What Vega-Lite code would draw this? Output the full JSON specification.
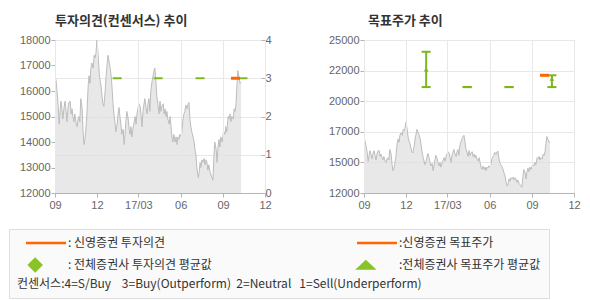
{
  "$schema": "https://vega.github.io/schema/vega-lite/v6.json",
  "padding": {"left": 8, "top": 14, "right": 8, "bottom": 1},
  "background": "white",
  "bounds": "flush",
  "spacing": 99,
  "config": {
    "font": "Liberation Sans",
    "view": {"stroke": "#b4b4b4"},
    "axis": {"labelFont": "Liberation Sans", "labelFontSize": 11, "labelColor": "#666666", "domainColor": "#b4b4b4", "tickColor": "#b4b4b4", "gridColor": "#e8e8e8", "title": null, "tickSize": 4, "labelPadding": 1, "labelOverlap": false},
    "title": {"anchor": "start", "font": "Noto Sans CJK KR", "fontSize": 13, "fontWeight": "bold", "color": "#333333", "offset": 6, "frame": "group"},
    "legend": {"symbolOpacity": 1}
  },
  "datasets": {
    "price": [
      {"d":"2016-09-01","p":16300},{"d":"2016-09-03","p":16450},{"d":"2016-09-05","p":16100},{"d":"2016-09-08","p":15400},{"d":"2016-09-10","p":14700},{"d":"2016-09-12","p":15200},{"d":"2016-09-14","p":15600},{"d":"2016-09-16","p":15300},{"d":"2016-09-18","p":14900},{"d":"2016-09-21","p":15400},{"d":"2016-09-23","p":15600},{"d":"2016-09-25","p":15200},{"d":"2016-09-27","p":14800},{"d":"2016-09-29","p":15300},
      {"d":"2016-10-01","p":15550},{"d":"2016-10-04","p":15600},{"d":"2016-10-06","p":15100},{"d":"2016-10-08","p":15300},{"d":"2016-10-10","p":15000},{"d":"2016-10-12","p":14800},{"d":"2016-10-14","p":15100},{"d":"2016-10-17","p":14700},{"d":"2016-10-19","p":14600},{"d":"2016-10-21","p":14900},{"d":"2016-10-23","p":15000},{"d":"2016-10-25","p":14800},{"d":"2016-10-27","p":15700},{"d":"2016-10-30","p":15300},
      {"d":"2016-11-01","p":14400},{"d":"2016-11-03","p":13900},{"d":"2016-11-05","p":14100},{"d":"2016-11-07","p":14500},{"d":"2016-11-09","p":15000},{"d":"2016-11-12","p":16200},{"d":"2016-11-14","p":16600},{"d":"2016-11-16","p":16300},{"d":"2016-11-18","p":16900},{"d":"2016-11-20","p":17100},{"d":"2016-11-23","p":16900},{"d":"2016-11-25","p":17400},{"d":"2016-11-27","p":17300},{"d":"2016-11-29","p":17500},
      {"d":"2016-12-01","p":18000},{"d":"2016-12-03","p":17600},{"d":"2016-12-06","p":16700},{"d":"2016-12-08","p":16400},{"d":"2016-12-10","p":16200},{"d":"2016-12-12","p":15800},{"d":"2016-12-14","p":15500},{"d":"2016-12-16","p":15400},{"d":"2016-12-19","p":16000},{"d":"2016-12-21","p":16600},{"d":"2016-12-23","p":17000},{"d":"2016-12-25","p":17400},{"d":"2016-12-27","p":17200},{"d":"2016-12-29","p":17000},
      {"d":"2017-01-01","p":16600},{"d":"2017-01-03","p":16100},{"d":"2017-01-05","p":15500},{"d":"2017-01-07","p":15100},{"d":"2017-01-09","p":14800},{"d":"2017-01-11","p":14400},{"d":"2017-01-14","p":14700},{"d":"2017-01-16","p":15100},{"d":"2017-01-18","p":15350},{"d":"2017-01-20","p":15000},{"d":"2017-01-22","p":14700},{"d":"2017-01-24","p":14300},{"d":"2017-01-27","p":14500},{"d":"2017-01-29","p":13900},{"d":"2017-01-31","p":14300},
      {"d":"2017-02-02","p":14800},{"d":"2017-02-04","p":15200},{"d":"2017-02-07","p":14900},{"d":"2017-02-09","p":14500},{"d":"2017-02-11","p":14300},{"d":"2017-02-13","p":14600},{"d":"2017-02-15","p":14200},{"d":"2017-02-17","p":14500},{"d":"2017-02-20","p":14800},{"d":"2017-02-22","p":15000},{"d":"2017-02-24","p":14700},{"d":"2017-02-26","p":15100},{"d":"2017-02-28","p":15300},
      {"d":"2017-03-02","p":15500},{"d":"2017-03-05","p":15400},{"d":"2017-03-07","p":15000},{"d":"2017-03-09","p":14600},{"d":"2017-03-11","p":15200},{"d":"2017-03-13","p":15450},{"d":"2017-03-15","p":15700},{"d":"2017-03-18","p":15300},{"d":"2017-03-20","p":15100},{"d":"2017-03-22","p":15500},{"d":"2017-03-24","p":15700},{"d":"2017-03-26","p":15200},{"d":"2017-03-28","p":16000},{"d":"2017-03-31","p":16400},
      {"d":"2017-04-02","p":16600},{"d":"2017-04-04","p":16800},{"d":"2017-04-06","p":16900},{"d":"2017-04-08","p":16400},{"d":"2017-04-10","p":15800},{"d":"2017-04-13","p":15400},{"d":"2017-04-15","p":15100},{"d":"2017-04-17","p":15600},{"d":"2017-04-19","p":15200},{"d":"2017-04-21","p":15400},{"d":"2017-04-24","p":15500},{"d":"2017-04-26","p":15100},{"d":"2017-04-28","p":15300},{"d":"2017-04-30","p":15000},
      {"d":"2017-05-02","p":15200},{"d":"2017-05-04","p":14900},{"d":"2017-05-07","p":14700},{"d":"2017-05-09","p":15000},{"d":"2017-05-11","p":14600},{"d":"2017-05-13","p":14200},{"d":"2017-05-15","p":14000},{"d":"2017-05-17","p":14300},{"d":"2017-05-20","p":14000},{"d":"2017-05-22","p":14200},{"d":"2017-05-24","p":13900},{"d":"2017-05-26","p":14200},{"d":"2017-05-28","p":14100},{"d":"2017-05-30","p":14300},
      {"d":"2017-06-02","p":14200},{"d":"2017-06-04","p":14500},{"d":"2017-06-06","p":14900},{"d":"2017-06-08","p":15100},{"d":"2017-06-10","p":15200},{"d":"2017-06-12","p":15450},{"d":"2017-06-15","p":15300},{"d":"2017-06-17","p":15500},{"d":"2017-06-19","p":15550},{"d":"2017-06-21","p":14900},{"d":"2017-06-23","p":14600},{"d":"2017-06-25","p":14400},{"d":"2017-06-28","p":14200},{"d":"2017-06-30","p":14000},
      {"d":"2017-07-02","p":13700},{"d":"2017-07-04","p":13500},{"d":"2017-07-06","p":13000},{"d":"2017-07-09","p":12600},{"d":"2017-07-11","p":12800},{"d":"2017-07-13","p":13200},{"d":"2017-07-15","p":13000},{"d":"2017-07-17","p":13300},{"d":"2017-07-19","p":13200},{"d":"2017-07-22","p":13350},{"d":"2017-07-24","p":13100},{"d":"2017-07-26","p":13300},{"d":"2017-07-28","p":13200},{"d":"2017-07-30","p":12900},
      {"d":"2017-08-01","p":13100},{"d":"2017-08-04","p":12800},{"d":"2017-08-06","p":12700},{"d":"2017-08-08","p":12600},{"d":"2017-08-10","p":12500},{"d":"2017-08-12","p":13400},{"d":"2017-08-14","p":14000},{"d":"2017-08-17","p":13700},{"d":"2017-08-19","p":13200},{"d":"2017-08-21","p":13800},{"d":"2017-08-23","p":14100},{"d":"2017-08-25","p":13800},{"d":"2017-08-27","p":14200},{"d":"2017-08-30","p":14000},
      {"d":"2017-09-01","p":14300},{"d":"2017-09-03","p":14400},{"d":"2017-09-05","p":14300},{"d":"2017-09-07","p":14600},{"d":"2017-09-09","p":14400},{"d":"2017-09-12","p":15000},{"d":"2017-09-14","p":14900},{"d":"2017-09-16","p":15100},{"d":"2017-09-18","p":14800},{"d":"2017-09-20","p":15000},{"d":"2017-09-23","p":14900},{"d":"2017-09-25","p":15300},{"d":"2017-09-27","p":15200},{"d":"2017-09-29","p":15500},
      {"d":"2017-10-01","p":16200},{"d":"2017-10-03","p":16800},{"d":"2017-10-06","p":16500},{"d":"2017-10-08","p":16300},{"d":"2017-10-10","p":16350}
    ],
    "opinion": [
      {"d":"2017-09-28","v":3,"who":"신영증권"},
      {"d":"2017-01-14","v":3,"who":"전체증권사"},
      {"d":"2017-04-13","v":3,"who":"전체증권사"},
      {"d":"2017-07-13","v":3,"who":"전체증권사"},
      {"d":"2017-10-14","v":3,"who":"전체증권사"}
    ],
    "target": [
      {"d":"2017-01-14","lo":21000,"hi":24000,"avg":22500,"s":"전체증권사 목표주가 평균값"},
      {"d":"2017-04-13","lo":21000,"hi":21000,"avg":21000,"s":"전체증권사 목표주가 평균값"},
      {"d":"2017-07-13","lo":21000,"hi":21000,"avg":21000,"s":"전체증권사 목표주가 평균값"},
      {"d":"2017-10-14","lo":21000,"hi":22000,"avg":21700,"s":"전체증권사 목표주가 평균값"}
    ],
    "mytarget": [
      {"d":"2017-09-28","t":22000}
    ]
  },
  "hconcat": [
    {
      "width": 210,
      "height": 153,
      "title": {"text": "투자의견(컨센서스) 추이"},
      "layer": [
        {
          "data": {"name": "price"},
          "mark": {"type": "area", "color": "#dedede", "line": {"color": "#bdbdbd", "strokeWidth": 1}, "clip": true},
          "encoding": {
            "x": {"field": "d", "type": "temporal",
              "scale": {"domain": [{"year":2016,"month":9,"date":1,"utc":true},{"year":2017,"month":12,"date":1,"utc":true}]},
              "axis": {"values": [{"year":2016,"month":9,"date":1,"utc":true},{"year":2016,"month":12,"date":1,"utc":true},{"year":2017,"month":3,"date":1,"utc":true},{"year":2017,"month":6,"date":1,"utc":true},{"year":2017,"month":9,"date":1,"utc":true},{"year":2017,"month":12,"date":1,"utc":true}],
                "tickCount": 12, "labelExpr": "utcFormat(datum.value, utcmonth(datum.value) == 2 ? '%y/%m' : '%m')", "labelFlush": false, "grid": true, "zindex": 1, "labelPadding": 2}},
            "y": {"field": "p", "type": "quantitative", "scale": {"domain": [12000, 18000], "nice": false, "zero": false},
              "axis": {"orient": "left", "values": [12000,13000,14000,15000,16000,17000,18000], "tickCount": 12, "format": "d", "grid": false}}
          }
        },
        {
          "data": {"name": "opinion"},
          "transform": [{"filter": "datum.who == '전체증권사'"}],
          "mark": {"type": "tick", "orient": "horizontal", "size": 9, "thickness": 2, "color": "#80b91e", "opacity": 1},
          "encoding": {
            "x": {"field": "d", "type": "temporal"},
            "y": {"field": "v", "type": "quantitative", "scale": {"domain": [0, 4], "nice": false},
              "axis": {"orient": "right", "values": [0,1,2,3,4], "tickCount": 12, "format": "d", "grid": true, "tickSize": -4, "labelPadding": 4, "domain": false}}
          }
        },
        {
          "data": {"name": "opinion"},
          "transform": [{"filter": "datum.who == '신영증권'"}],
          "mark": {"type": "tick", "orient": "horizontal", "size": 9, "thickness": 3, "color": "#ff6600", "opacity": 1},
          "encoding": {
            "x": {"field": "d", "type": "temporal"},
            "y": {"field": "v", "type": "quantitative", "scale": {"domain": [0, 4], "nice": false}, "axis": null}
          }
        }
      ],
      "resolve": {"scale": {"y": "independent"}}
    },
    {
      "width": 210,
      "height": 153,
      "title": {"text": "목표주가 추이", "dx": 4},
      "layer": [
        {
          "data": {"name": "price"},
          "mark": {"type": "area", "color": "#dedede", "line": {"color": "#bdbdbd", "strokeWidth": 1}, "clip": true},
          "encoding": {
            "x": {"field": "d", "type": "temporal",
              "scale": {"domain": [{"year":2016,"month":9,"date":1,"utc":true},{"year":2017,"month":12,"date":1,"utc":true}]},
              "axis": {"values": [{"year":2016,"month":9,"date":1,"utc":true},{"year":2016,"month":12,"date":1,"utc":true},{"year":2017,"month":3,"date":1,"utc":true},{"year":2017,"month":6,"date":1,"utc":true},{"year":2017,"month":9,"date":1,"utc":true},{"year":2017,"month":12,"date":1,"utc":true}],
                "tickCount": 12, "labelExpr": "utcFormat(datum.value, utcmonth(datum.value) == 2 ? '%y/%m' : '%m')", "labelFlush": false, "grid": true, "zindex": 1, "labelPadding": 2}},
            "y": {"field": "p", "type": "quantitative", "scale": {"domain": [12000, 25000], "nice": false, "zero": false},
              "axis": {"orient": "left", "values": [12000,14600,17200,19800,22400,25000], "tickCount": 12, "labelExpr": "format(round(datum.value/1000)*1000, 'd')", "grid": true, "labelOverlap": false}}
          }
        },
        {
          "data": {"name": "target"},
          "mark": {"type": "rule", "color": "#7cb51c", "strokeWidth": 2},
          "encoding": {
            "x": {"field": "d", "type": "temporal"},
            "y": {"field": "lo", "type": "quantitative"},
            "y2": {"field": "hi"}
          }
        },
        {
          "data": {"name": "target"},
          "mark": {"type": "tick", "orient": "horizontal", "size": 9, "thickness": 2, "color": "#7cb51c", "opacity": 1},
          "encoding": {
            "x": {"field": "d", "type": "temporal"},
            "y": {"field": "lo", "type": "quantitative"}
          }
        },
        {
          "data": {"name": "target"},
          "mark": {"type": "tick", "orient": "horizontal", "size": 9, "thickness": 2, "color": "#7cb51c", "opacity": 1},
          "encoding": {
            "x": {"field": "d", "type": "temporal"},
            "y": {"field": "hi", "type": "quantitative"}
          }
        },
        {
          "data": {"name": "target"},
          "transform": [{"filter": "datum.hi > datum.lo"}],
          "mark": {"type": "point", "shape": "triangle-up", "size": 22, "filled": true, "color": "#7cb51c", "opacity": 1},
          "encoding": {
            "x": {"field": "d", "type": "temporal"},
            "y": {"field": "avg", "type": "quantitative"}
          }
        },
        {
          "data": {"name": "mytarget"},
          "mark": {"type": "tick", "orient": "horizontal", "size": 9, "thickness": 3, "color": "#ff6600", "opacity": 1},
          "encoding": {
            "x": {"field": "d", "type": "temporal"},
            "y": {"field": "t", "type": "quantitative"}
          }
        },
        {
          "data": {"name": "target"},
          "mark": {"type": "point", "opacity": 0, "filled": true},
          "encoding": {
            "x": {"field": "d", "type": "temporal"},
            "y": {"field": "avg", "type": "quantitative"},
            "fill": {"field": "s", "type": "nominal", "title": "컨센서스:4=S/Buy\u00a0\u00a0\u00a0\u00a03=Buy(Outperform)\u00a0\u00a02=Neutral\u00a0\u00a0\u00a01=Sell(Underperform)",
              "scale": {"domain": ["신영증권 투자의견", "전체증권사 투자의견 평균값", "신영증권 목표주가", "전체증권사 목표주가 평균값"], "range": ["#ff6600", "#88c425", "#ff6600", "#88c425"]},
              "legend": {"orient": "none", "legendX": -46, "legendY": 189, "columns": 2, "columnPadding": 136, "rowPadding": 5, "padding": 8, "symbolOffset": 7, "symbolSize": 64, "strokeColor": "#dddddd", "fillColor": "#fafafa", "cornerRadius": 0, "titleOrient": "bottom", "titleFontWeight": "normal", "titleFont": "Noto Sans CJK KR", "titleFontSize": 12, "titleColor": "#333333", "titlePadding": 3, "titleLimit": 700, "labelFont": "Noto Sans CJK KR", "labelFontSize": 12, "labelColor": "#333333", "labelLimit": 300, "labelOffset": 32, "symbolStrokeWidth": 2.5, "labelExpr": "(indexof(datum.label, '목표주가') >= 0 ? ':' : ': ') + datum.label"}},
            "stroke": {"field": "s", "type": "nominal", "title": "컨센서스:4=S/Buy\u00a0\u00a0\u00a0\u00a03=Buy(Outperform)\u00a0\u00a02=Neutral\u00a0\u00a0\u00a01=Sell(Underperform)",
              "scale": {"domain": ["신영증권 투자의견", "전체증권사 투자의견 평균값", "신영증권 목표주가", "전체증권사 목표주가 평균값"], "range": ["#ff6600", "#88c425", "#ff6600", "#88c425"]}},
            "shape": {"field": "s", "type": "nominal", "title": "컨센서스:4=S/Buy\u00a0\u00a0\u00a0\u00a03=Buy(Outperform)\u00a0\u00a02=Neutral\u00a0\u00a0\u00a01=Sell(Underperform)",
              "scale": {"domain": ["신영증권 투자의견", "전체증권사 투자의견 평균값", "신영증권 목표주가", "전체증권사 목표주가 평균값"], "range": ["M-1,0L9,0", "M-0.2,0L1.3,-1.5L2.8,0L1.3,1.5Z", "M-1,0L9,0", "M-0.7,0.9L1.2,-0.9L3.1,0.9Z"]}}
          }
        }
      ]
    }
  ]
}
